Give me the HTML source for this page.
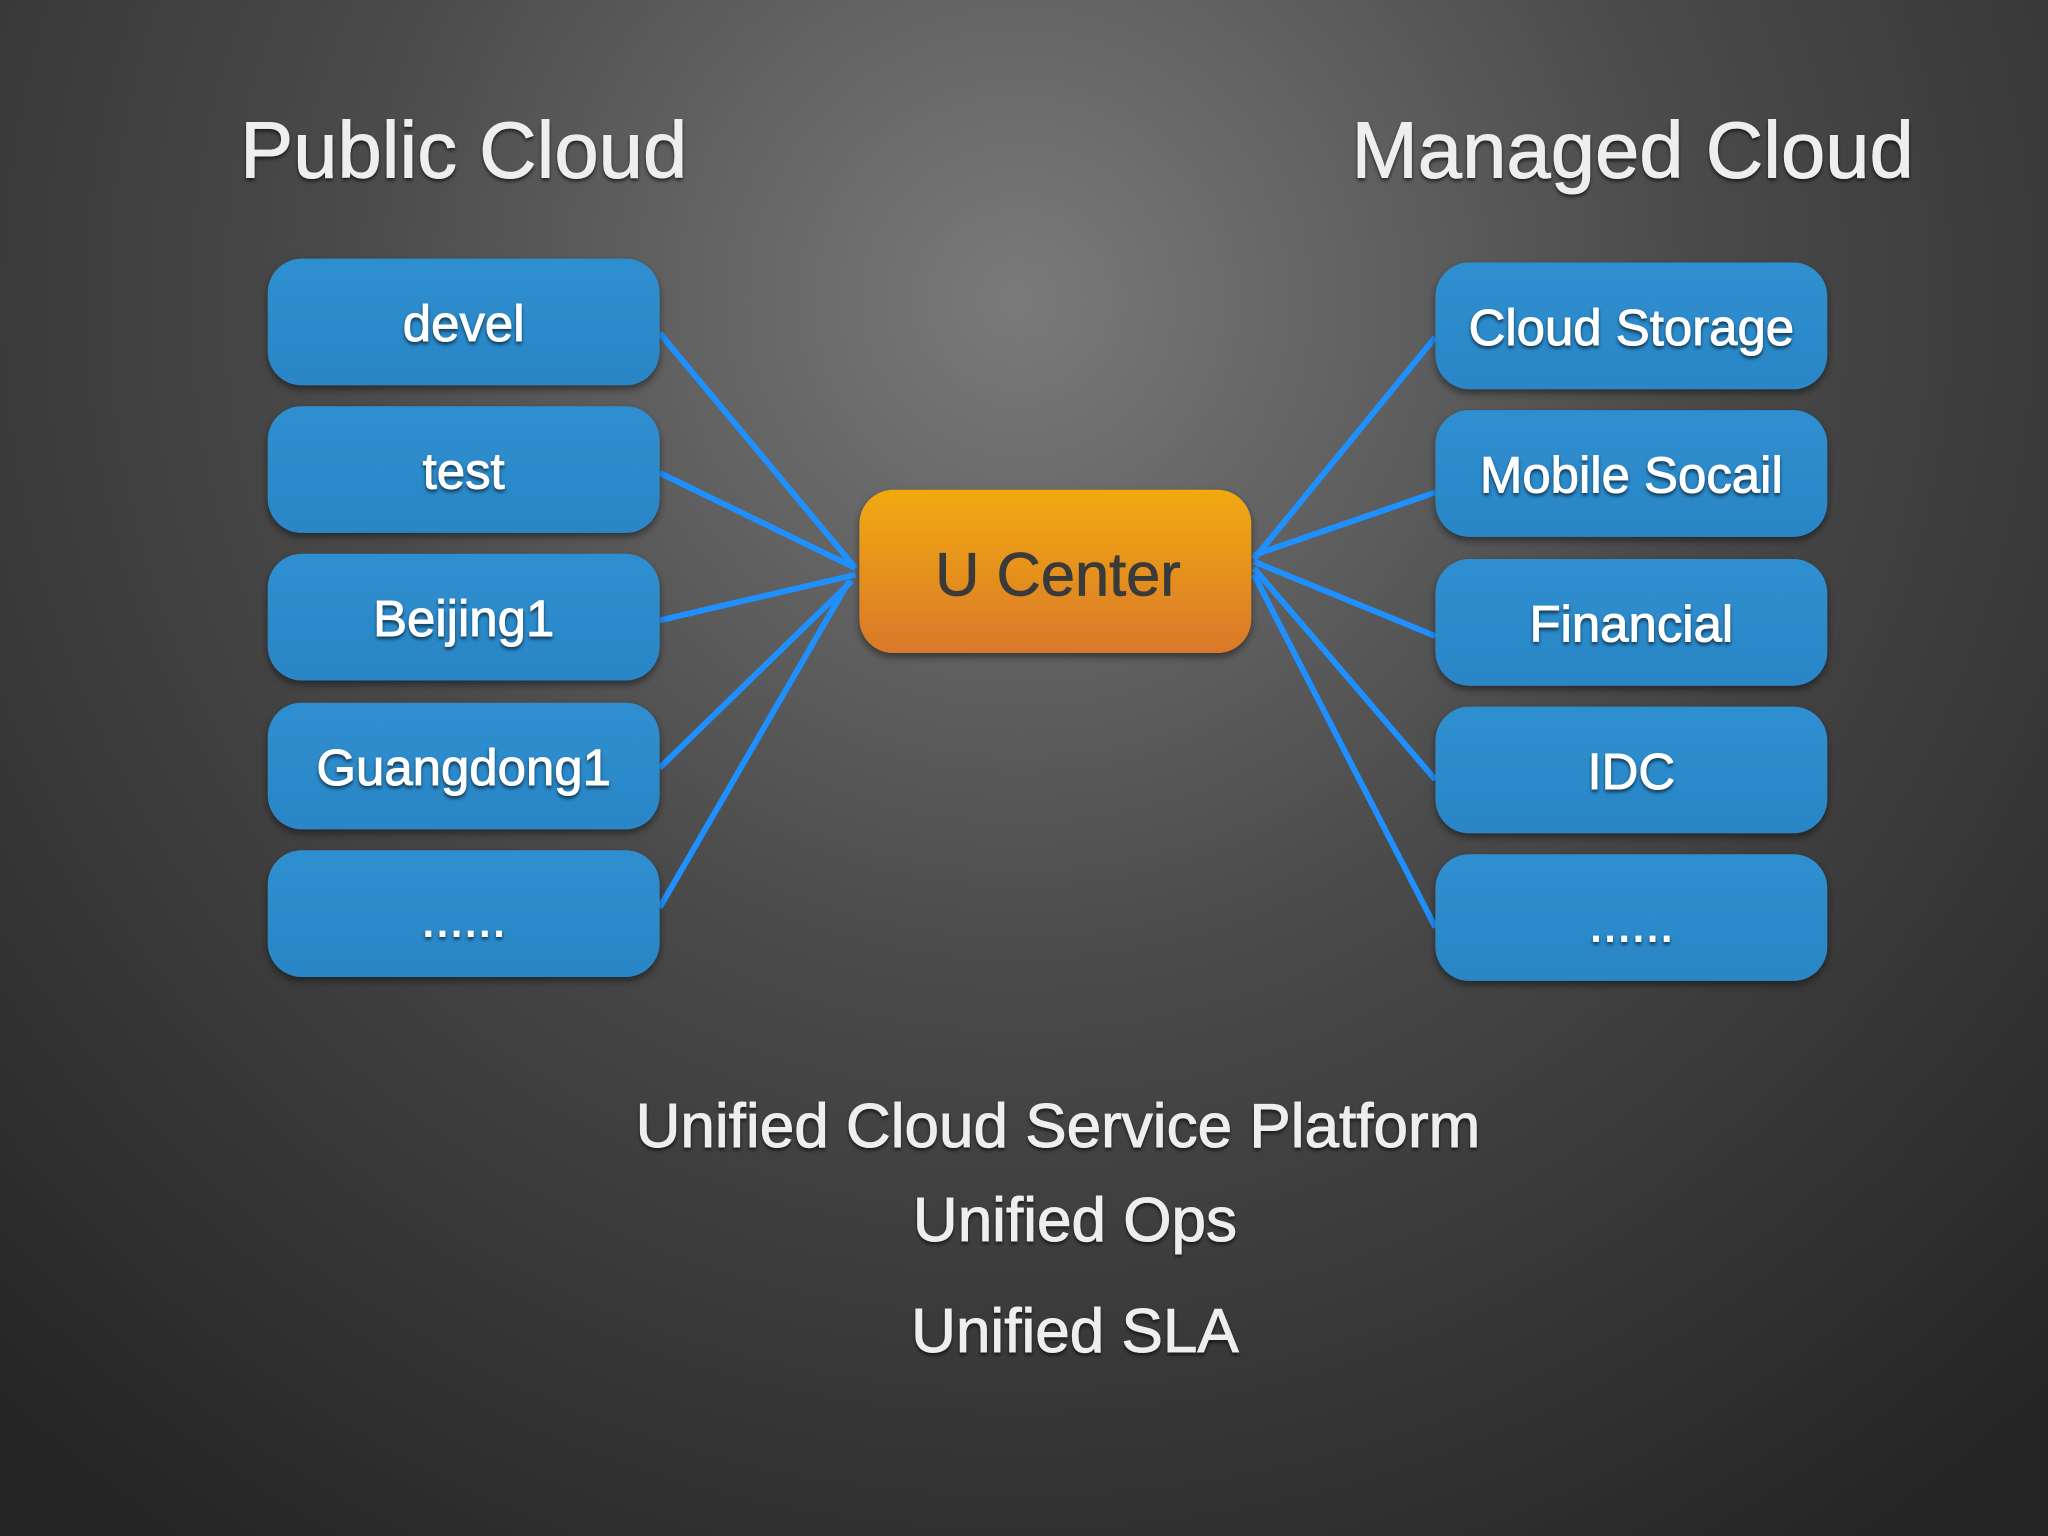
<!DOCTYPE html>
<html><head><meta charset="utf-8"><style>
html,body{margin:0;padding:0;width:2048px;height:1536px;overflow:hidden;background:#2c2c2c}
svg{display:block}
text{font-family:"Liberation Sans",sans-serif}
</style></head><body>
<svg width="2048" height="1536" viewBox="0 0 1568 1176" xmlns="http://www.w3.org/2000/svg">
<defs>
<radialGradient id="bg" cx="780" cy="230" r="1150" gradientUnits="userSpaceOnUse">
<stop offset="0" stop-color="#7a7a7a"/><stop offset="0.45" stop-color="#4a4a4a"/><stop offset="1" stop-color="#252525"/>
</radialGradient>
<linearGradient id="or" x1="0" y1="0" x2="0" y2="1">
<stop offset="0" stop-color="#f1aa10"/><stop offset="1" stop-color="#d9782a"/>
</linearGradient>
<linearGradient id="bl" x1="0" y1="0" x2="0" y2="1">
<stop offset="0" stop-color="#2f8fd0"/><stop offset="1" stop-color="#2a86c6"/>
</linearGradient>
<filter id="sh" x="-10%" y="-10%" width="120%" height="130%"><feDropShadow dx="0" dy="3" stdDeviation="3" flood-color="#000" flood-opacity="0.45"/></filter>
<filter id="ts"><feDropShadow dx="0" dy="2" stdDeviation="1.5" flood-color="#000" flood-opacity="0.6"/></filter>
</defs>
<rect width="1568" height="1176" fill="url(#bg)"/>
<g stroke="#1e90ff" stroke-width="4.5" fill="none">
<line x1="505" y1="255" x2="655" y2="435"/>
<line x1="505" y1="362" x2="655" y2="435"/>
<line x1="505" y1="475" x2="655" y2="440"/>
<line x1="505" y1="588" x2="652" y2="445"/>
<line x1="505" y1="695" x2="650" y2="445"/>
<line x1="960" y1="428" x2="1099" y2="258"/>
<line x1="960" y1="425" x2="1099" y2="377"/>
<line x1="960" y1="430" x2="1099" y2="487"/>
<line x1="960" y1="435" x2="1099" y2="597"/>
<line x1="960" y1="440" x2="1099" y2="710"/>
</g>
<g filter="url(#sh)" fill="url(#bl)">
<rect x="205" y="198" width="300" height="97" rx="26"/>
<rect x="205" y="311" width="300" height="97" rx="26"/>
<rect x="205" y="424" width="300" height="97" rx="26"/>
<rect x="205" y="538" width="300" height="97" rx="26"/>
<rect x="205" y="651" width="300" height="97" rx="26"/>
<rect x="1099" y="201" width="300" height="97" rx="26"/>
<rect x="1099" y="314" width="300" height="97" rx="26"/>
<rect x="1099" y="428" width="300" height="97" rx="26"/>
<rect x="1099" y="541" width="300" height="97" rx="26"/>
<rect x="1099" y="654" width="300" height="97" rx="26"/>
<rect x="658" y="375" width="300" height="125" rx="26" fill="url(#or)"/>
</g>
<g fill="#fff" font-size="39" text-anchor="middle" filter="url(#ts)" stroke="#fff" stroke-width="0.7">
<text x="355" y="261">devel</text>
<text x="355" y="374">test</text>
<text x="355" y="487">Beijing1</text>
<text x="355" y="601">Guangdong1</text>
<text x="355" y="717">......</text>
<text x="1249" y="264">Cloud Storage</text>
<text x="1249" y="377">Mobile Socail</text>
<text x="1249" y="491">Financial</text>
<text x="1249" y="604">IDC</text>
<text x="1249" y="721">......</text>
</g>
<text x="810" y="456" font-size="47" fill="#3a3a3a" text-anchor="middle" stroke="#3a3a3a" stroke-width="0.6">U Center</text>
<g fill="#eee" text-anchor="middle" filter="url(#ts)" stroke="#eee" stroke-width="0.7">
<text x="355" y="136" font-size="61">Public Cloud</text>
<text x="1250" y="136" font-size="61">Managed Cloud</text>
<text x="810" y="878" font-size="47.5">Unified Cloud Service Platform</text>
<text x="823" y="950" font-size="47.5">Unified Ops</text>
<text x="823" y="1035" font-size="47.5">Unified SLA</text>
</g>
</svg>
</body></html>
